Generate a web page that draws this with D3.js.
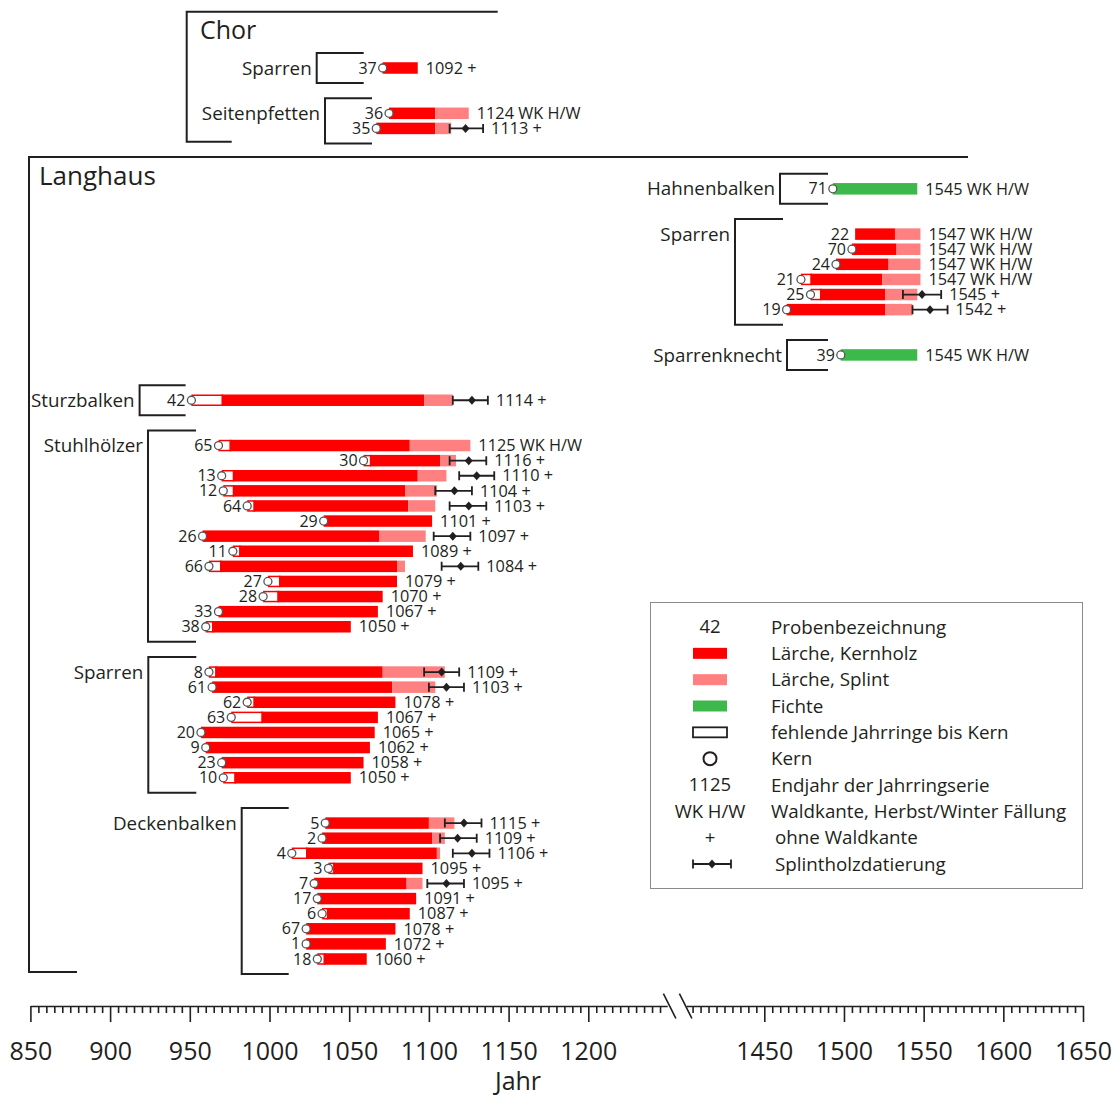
<!DOCTYPE html>
<html>
<head>
<meta charset="utf-8">
<script src="https://cdn.jsdelivr.net/npm/d3@7"></script>
<style>
  body { margin: 0; background: #fff; }
  svg { display: block; }
</style>
</head>
<body>
<svg id="chart" width="1119" height="1098"></svg>
<script>
// ---- data ----
const sectionNames = ["Chor", "Langhaus"];
const groupNames = ["Sparren", "Seitenpfetten", "Hahnenbalken", "Sparren", "Sparrenknecht",
                    "Sturzbalken", "Stuhlhölzer", "Sparren", "Deckenbalken"];

// one entry per sample, in drawing order (group index refers to groupNames)
const sampleIds   = ["37", "36", "35", "71", "22", "70", "24", "21", "25", "19", "39", "42",
                     "65", "30", "13", "12", "64", "29", "26", "11", "66", "27", "28", "33", "38",
                     "8", "61", "62", "63", "20", "9", "23", "10",
                     "5", "2", "4", "3", "7", "17", "6", "67", "1", "18"];
const sampleGroup = [0, 1, 1, 2, 3, 3, 3, 3, 3, 3, 4, 5,
                     6, 6, 6, 6, 6, 6, 6, 6, 6, 6, 6, 6, 6,
                     7, 7, 7, 7, 7, 7, 7, 7,
                     8, 8, 8, 8, 8, 8, 8, 8, 8, 8];
const spruceIds = ["71", "39"];   // Fichte, all others Lärche
// year of the pith (Kern), null when no pith
const pithYear    = [1071, 1075, 1067, 1493, null, 1505, 1495, 1473, 1479, 1464, 1498, 951,
                     968, 1059, 970, 971, 986, 1034, 958, 977, 962, 999, 996, 968, 960,
                     962, 964, 986, 976, 957, 960, 970, 971,
                     1035, 1033, 1014, 1037, 1028, 1030, 1033, 1023, 1023, 1030];
// first measured ring (gap to pith = missing rings)
const firstYear   = [1071, 1075, 1067, 1493, 1507, 1505, 1495, 1479, 1485, 1464, 1498, 970,
                     975, 1063, 977, 977, 990, 1034, 958, 981, 969, 1006, 1005, 968, 964,
                     966, 964, 990, 995, 957, 960, 970, 978,
                     1035, 1033, 1023, 1040, 1028, 1030, 1036, 1023, 1023, 1034];
// first sapwood ring, null when no sapwood
const sapYear     = [null, 1104, 1104, null, 1532, 1533, 1528, 1524, 1526, 1526, null, 1097,
                     1088, 1107, 1093, 1085, 1087, null, 1069, null, 1080, null, null, null, null,
                     1071, 1077, null, null, null, null, null, null,
                     1100, 1102, 1105, null, 1086, null, null, null, null, null];
const endYear     = [1092, 1124, 1113, 1545, 1547, 1547, 1547, 1547, 1545, 1542, 1545, 1114,
                     1125, 1116, 1110, 1104, 1103, 1101, 1097, 1089, 1084, 1079, 1070, 1067, 1050,
                     1109, 1103, 1078, 1067, 1065, 1062, 1058, 1050,
                     1115, 1109, 1106, 1095, 1095, 1091, 1087, 1078, 1072, 1060];
const waldkanteIds = ["36", "71", "22", "70", "24", "21", "39", "65"];
// Splintholzdatierung: [low, estimate, high]
const sapDating = [
  { id: "35", lo: 1113, mid: 1123, hi: 1134 },
  { id: "25", lo: 1537, mid: 1549, hi: 1561 },
  { id: "19", lo: 1543, mid: 1554, hi: 1565 },
  { id: "42", lo: 1115, mid: 1127, hi: 1137 },
  { id: "30", lo: 1113, mid: 1125, hi: 1136 },
  { id: "13", lo: 1119, mid: 1130, hi: 1141 },
  { id: "12", lo: 1104, mid: 1116, hi: 1127 },
  { id: "64", lo: 1113, mid: 1125, hi: 1136 },
  { id: "26", lo: 1103, mid: 1115, hi: 1126 },
  { id: "66", lo: 1108, mid: 1120, hi: 1131 },
  { id: "8",  lo: 1097, mid: 1108, hi: 1119 },
  { id: "61", lo: 1100, mid: 1111, hi: 1122 },
  { id: "5",  lo: 1110, mid: 1122, hi: 1133 },
  { id: "2",  lo: 1107, mid: 1118, hi: 1130 },
  { id: "4",  lo: 1115, mid: 1127, hi: 1138 },
  { id: "7",  lo: 1099, mid: 1111, hi: 1122 }
];

const majorTicksLeft = [850, 900, 950, 1000, 1050, 1100, 1150, 1200];
const majorTicksRight = [1450, 1500, 1550, 1600, 1650];
const legendSymbols = ["42", "kern", "splint", "fichte", "fehlend", "circle", "1125", "WK H/W", "+", "dating"];
const legendLabels = ["Probenbezeichnung", "Lärche, Kernholz", "Lärche, Splint", "Fichte",
                      "fehlende Jahrringe bis Kern", "Kern", "Endjahr der Jahrringserie",
                      "Waldkante, Herbst/Winter Fällung", "ohne Waldkante", "Splintholzdatierung"];

// ---- layout ----
const groupFirstSlot = [0, 3, 8, 11, 19, 22, 25, 40, 50];
const groupBracketX  = [316.7, 325, 780, 735, 787, 139.6, 148, 148.3, 241.7];
const groupBracketW  = [47, 47, 48, 48, 41, 46, 48, 48, 47];

const FONT = "'Open Sans', sans-serif";
const INK = "#231f20";
const RED = "#ff0000", PINK = "#ff8080", GREEN = "#3cb94a";

const svg = d3.select("#chart");

// broken year axis: two linear pieces
const xLeft = d3.scaleLinear().domain([850, 1250]).range([30.4, 668]);
const xRight = d3.scaleLinear().domain([1450, 1650]).range([764.3, 1083]);
const x = yr => yr < 1325 ? xLeft(yr) : xRight(yr);

const ySlot = d3.scaleLinear().domain([0, 59]).range([68, 959]);

// build sample table
const slotCount = {};
const samples = sampleIds.map((id, i) => {
  const g = sampleGroup[i];
  slotCount[g] = (slotCount[g] || 0);
  const slot = groupFirstSlot[g] + slotCount[g]++;
  return {
    id, group: g, slot,
    pith: pithYear[i], first: firstYear[i], sap: sapYear[i], end: endYear[i],
    spruce: spruceIds.includes(id),
    wk: waldkanteIds.includes(id),
    dating: sapDating.find(s => s.id === id) || null
  };
});

// section brackets
function sectionBracket(x0, top, bottom, topLen, bottomLen) {
  svg.append("path")
    .attr("d", `M${x0 + topLen},${top}H${x0}V${bottom}H${x0 + bottomLen}`)
    .attr("fill", "none").attr("stroke", INK).attr("stroke-width", 2);
}
sectionBracket(186.7, 11.7, 141.7, 311, 45);
sectionBracket(29, 157, 972, 939, 48);

svg.append("text").attr("x", 200).attr("y", 39)
  .attr("font-family", FONT).attr("font-size", 25).attr("fill", INK).text(sectionNames[0]);
svg.append("text").attr("x", 39).attr("y", 185)
  .attr("font-family", FONT).attr("font-size", 26).attr("fill", INK).text(sectionNames[1]);

// group brackets + labels
groupNames.forEach((name, g) => {
  const rows = samples.filter(d => d.group === g);
  const yTop = ySlot(rows[0].slot) - 15;
  const yBot = ySlot(rows[rows.length - 1].slot) + 15;
  const bx = groupBracketX[g], bw = groupBracketW[g];
  svg.append("path")
    .attr("d", `M${bx + bw},${yTop}H${bx}V${yBot}H${bx + bw}`)
    .attr("fill", "none").attr("stroke", INK).attr("stroke-width", 2);
  svg.append("text")
    .attr("x", bx - 5).attr("y", ySlot(rows[0].slot))
    .attr("dy", "0.35em").attr("text-anchor", "end")
    .attr("font-family", FONT).attr("font-size", 18.8).attr("fill", INK)
    .text(name);
});

// bars
const barH = 11.5;
const gBars = svg.append("g");
samples.forEach(d => {
  const y = ySlot(d.slot);
  const xe = x(d.end + 1);
  const heartEnd = d.sap != null ? x(d.sap) : xe;

  if (d.pith != null && d.first > d.pith) {
    gBars.append("rect")
      .attr("x", x(d.pith) + 0.75).attr("y", y - barH / 2 + 0.75)
      .attr("width", x(d.first) - x(d.pith)).attr("height", barH - 1.5)
      .attr("fill", "#fff").attr("stroke", RED).attr("stroke-width", 1.5);
  }
  gBars.append("rect")
    .attr("x", x(d.first)).attr("y", y - barH / 2)
    .attr("width", heartEnd - x(d.first)).attr("height", barH)
    .attr("fill", d.spruce ? GREEN : RED);
  if (d.sap != null) {
    gBars.append("rect")
      .attr("x", x(d.sap)).attr("y", y - barH / 2)
      .attr("width", xe - x(d.sap)).attr("height", barH)
      .attr("fill", PINK);
  }
  const x0 = d.pith != null ? x(d.pith) : x(d.first);
  if (d.pith != null) {
    gBars.append("circle")
      .attr("cx", x(d.pith)).attr("cy", y).attr("r", 4)
      .attr("fill", "#fff").attr("stroke", "#555").attr("stroke-width", 1.3);
  }
  gBars.append("text")
    .attr("x", x0 - 6).attr("y", y).attr("dy", "0.35em").attr("text-anchor", "end")
    .attr("font-family", FONT).attr("font-size", 16).attr("fill", INK)
    .text(d.id);

  let labelX = xe;
  if (d.dating) {
    const s = d.dating;
    const xl = x(s.lo), xm = x(s.mid), xh = x(s.hi);
    gBars.append("path")
      .attr("d", `M${xl},${y}H${xh}M${xl},${y - 4.5}V${y + 4.5}M${xh},${y - 4.5}V${y + 4.5}`)
      .attr("stroke", INK).attr("stroke-width", 1.8).attr("fill", "none");
    gBars.append("path")
      .attr("d", `M${xm},${y - 4.5}L${xm + 4},${y}L${xm},${y + 4.5}L${xm - 4},${y}Z`)
      .attr("fill", INK);
    labelX = Math.max(labelX, xh);
  }
  gBars.append("text")
    .attr("x", labelX + 8).attr("y", y).attr("dy", "0.35em")
    .attr("font-family", FONT).attr("font-size", 16.3).attr("fill", INK)
    .text(d.wk ? `${d.end} WK H/W` : `${d.end} +`);
});

// axis
const axisY = 1006;
const xLeftAxis = xLeft.copy().domain([850, 1249.5]).range([30.4, xLeft(1249.5)]);
const xRightAxis = xRight.copy().domain([1401, 1650]).range([xRight(1401), 1083]);

function drawAxis(scale, minor, major) {
  const g = svg.append("g").attr("transform", `translate(0,${axisY})`);
  g.call(d3.axisBottom(scale).tickValues(minor).tickSize(7).tickSizeOuter(0).tickFormat(""));
  const gm = svg.append("g").attr("transform", `translate(0,${axisY})`);
  gm.call(d3.axisBottom(scale).tickValues(major).tickSize(16).tickSizeOuter(0)
    .tickPadding(20).tickFormat(d3.format("d")));
  gm.select(".domain").remove();
  [g, gm].forEach(a => {
    a.selectAll("line, path").attr("stroke", INK).attr("stroke-width", 1.6);
    a.selectAll("text").attr("font-family", FONT).attr("font-size", 25).attr("fill", INK);
  });
}
drawAxis(xLeftAxis, d3.range(855, 1250, 5).filter(v => v % 50 !== 0), majorTicksLeft);
drawAxis(xRightAxis, d3.range(1405, 1650, 5).filter(v => v % 50 !== 0), majorTicksRight);

// break marks
svg.append("path")
  .attr("d", `M663.4,993.6L675.9,1018.5M679.4,993.6L691.9,1018.5`)
  .attr("stroke", INK).attr("stroke-width", 1.6).attr("fill", "none");

svg.append("text").attr("x", 518).attr("y", 1090).attr("text-anchor", "middle")
  .attr("font-family", FONT).attr("font-size", 25).attr("fill", INK).text("Jahr");

// legend
const lg = svg.append("g");
lg.append("rect").attr("x", 650.5).attr("y", 602.5).attr("width", 432).attr("height", 286)
  .attr("fill", "#fff").attr("stroke", "#8a8a8a").attr("stroke-width", 1);
const legendY = d3.scaleLinear().domain([0, 9]).range([627, 864]);
const symX = 710;
legendSymbols.forEach((sym, i) => {
  const y = legendY(i);
  if (sym === "kern" || sym === "splint" || sym === "fichte") {
    lg.append("rect").attr("x", symX - 17).attr("y", y - 5.5).attr("width", 34).attr("height", 11)
      .attr("fill", sym === "kern" ? RED : sym === "splint" ? PINK : GREEN);
  } else if (sym === "fehlend") {
    lg.append("rect").attr("x", symX - 17).attr("y", y - 5).attr("width", 34).attr("height", 10)
      .attr("fill", "#fff").attr("stroke", INK).attr("stroke-width", 1.8);
  } else if (sym === "circle") {
    lg.append("circle").attr("cx", symX).attr("cy", y).attr("r", 6.5)
      .attr("fill", "#fff").attr("stroke", INK).attr("stroke-width", 2);
  } else if (sym === "dating") {
    const xl = symX - 17, xh = symX + 21, xm = symX + 2;
    lg.append("path")
      .attr("d", `M${xl},${y}H${xh}M${xl},${y - 4.5}V${y + 4.5}M${xh},${y - 4.5}V${y + 4.5}`)
      .attr("stroke", INK).attr("stroke-width", 1.8).attr("fill", "none");
    lg.append("path")
      .attr("d", `M${xm},${y - 4.5}L${xm + 4},${y}L${xm},${y + 4.5}L${xm - 4},${y}Z`)
      .attr("fill", INK);
  } else {
    lg.append("text").attr("x", symX).attr("y", y).attr("dy", "0.35em").attr("text-anchor", "middle")
      .attr("font-family", FONT).attr("font-size", 18.5).attr("fill", INK).text(sym);
  }
  lg.append("text").attr("x", (sym === "+" || sym === "dating") ? 775 : 771).attr("y", y).attr("dy", "0.35em")
    .attr("font-family", FONT).attr("font-size", 18.8).attr("fill", INK).text(legendLabels[i]);
});
</script>
</body>
</html>
